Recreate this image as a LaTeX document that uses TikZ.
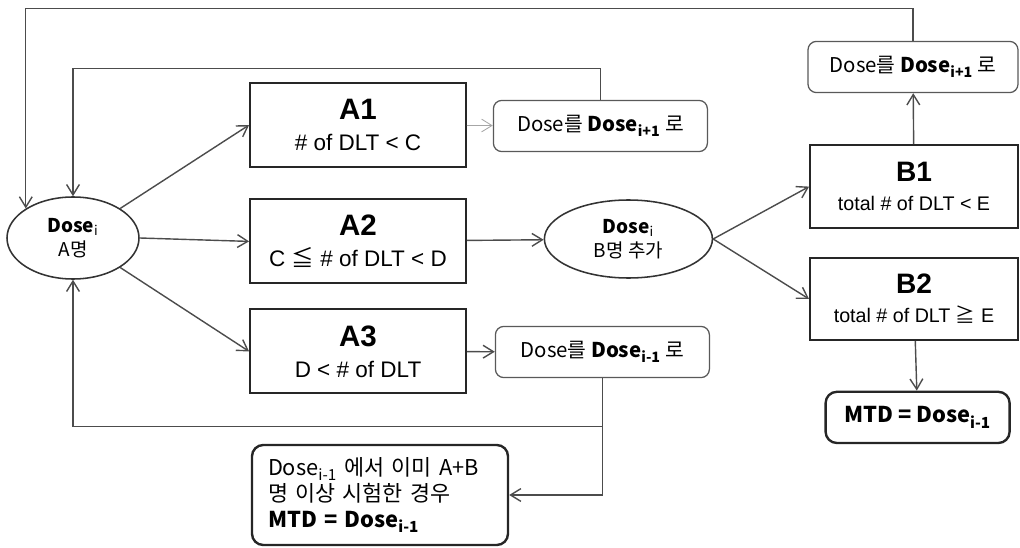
\documentclass[tikz,border=0pt]{standalone}
\usepackage{fontspec}
\setmainfont{Liberation Sans}
\newfontfamily\kr{Noto Sans CJK KR}
\usetikzlibrary{arrows.meta,positioning,shapes.geometric}

\begin{document}
\begin{tikzpicture}[
  >={Straight Barb[length=2.6mm,width=3.2mm]},
  cond/.style={draw=black!85,line width=1.3pt,minimum width=5.4cm,minimum height=2.1cm,align=center,inner sep=1pt,font=\fontsize{16}{22}\selectfont},
  dose/.style={ellipse,draw=black!80,line width=1.1pt,minimum width=3.3cm,minimum height=2.05cm,align=center,inner sep=0pt,font=\kr\fontsize{13.5}{17}\selectfont},
  nxt/.style={draw=black!65,line width=0.9pt,rounded corners=6pt,minimum width=5.35cm,minimum height=1.28cm,font=\kr\fontsize{14.5}{16}\selectfont},
  mtd/.style={draw=black!85,line width=1.7pt,rounded corners=8pt,font=\kr\fontsize{15.5}{18.5}\selectfont},
  ln/.style={draw=black!70,line width=1pt,->}]
  \useasboundingbox (0,0) rectangle (25.5,13.675);

  % first cohort and its three outcomes
  \node[dose] (dA) at (1.825,7.725) {\textbf{Dose}\textsubscript{i}\\A명};
  \node[cond] (A1) at (8.95,10.55) {{\fontsize{21}{21}\selectfont\bfseries A1}\\\# of DLT < C};
  \node[cond] (A2) at (8.95,7.64) {{\fontsize{21}{21}\selectfont\bfseries A2}\\C {\kr ≦} \# of DLT < D};
  \node[cond] (A3) at (8.95,4.89) {{\fontsize{21}{21}\selectfont\bfseries A3}\\D < \# of DLT};
  \node[nxt] (up1) at (15.01,10.525) {Dose를 \textbf{Dose}\textsubscript{\textbf{i+1}} 로};
  \node[dose,minimum width=4.2cm,minimum height=1.95cm] (dB) at (15.71,7.7) {\textbf{Dose}\textsubscript{i}\\B명 추가};
  \node[nxt] (dn1) at (15.06,4.875) {Dose를 \textbf{Dose}\textsubscript{\textbf{i-1}} 로};

  % second cohort
  \node[nxt,minimum width=5.25cm] (up2) at (22.825,12.0) {Dose를 \textbf{Dose}\textsubscript{\textbf{i+1}} 로};
  \node[cond,minimum width=5.2cm,minimum height=2.08cm,font=\fontsize{14}{20.5}\selectfont] (B1) at (22.85,9.01) {{\fontsize{20}{20}\selectfont\bfseries B1}\\total \# of DLT < E};
  \node[cond,minimum width=5.2cm,minimum height=2.05cm,font=\fontsize{14}{20.5}\selectfont] (B2) at (22.85,6.2) {{\fontsize{20}{20}\selectfont\bfseries B2}\\total \# of DLT {\kr ≧} E};
  \node[mtd,minimum width=4.6cm,minimum height=1.28cm] (m1) at (22.94,3.24) {\textbf{MTD = Dose}\textsubscript{\textbf{i-1}}};
  \node[mtd,minimum width=6.4cm,minimum height=2.5cm,text width=5.6cm,inner xsep=0.4cm,align=left] (m2) at (9.5,1.3)
    {Dose\textsubscript{i-1} 에서 이미 A+B\\명 이상 시험한 경우\\\textbf{MTD = Dose}\textsubscript{\textbf{i-1}}};
  \coordinate[below=1.2cm of dn1] (jn);

  \draw[ln] (dA.north east) -- (A1.west);
  \draw[ln] (dA.east) -- (A2.west);
  \draw[ln] (dA.south east) -- (A3.west);
  \draw[ln,draw=black!35,line width=0.6pt] (A1) -- (up1);
  \draw[ln] (A2) -- (dB);
  \draw[ln] (A3) -- (dn1);
  \draw[ln] (dB.east) -- (B1.west);
  \draw[ln] (dB.east) -- (B2.west);
  \draw[ln] (B1) -- (up2);
  \draw[ln] (B2) -- (m1);
  % loops back to the first cohort
  \draw[ln] (up2.north) -- ++(0,0.8) -| (dA.north west);
  \draw[ln] (up1.north) -- ++(0,0.78) -| (dA.north);
  \draw[ln] (jn) -| (dA.south);
  \draw[ln] (dn1.south) |- (m2.east);
\end{tikzpicture}
\end{document}
